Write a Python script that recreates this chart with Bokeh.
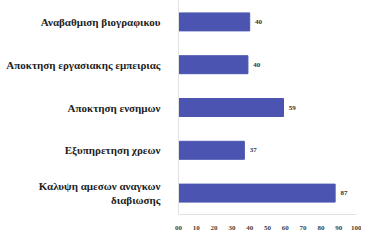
from bokeh.plotting import figure
from bokeh.models import FactorRange, ColumnDataSource, FixedTicker
from bokeh.embed import file_html
from bokeh.resources import INLINE
from bokeh.core.properties import value

categories = [
    "Αναβαθμιση βιογραφικου",
    "Αποκτηση εργασιακης εμπειριας",
    "Αποκτηση ενσημων",
    "Εξυπηρετηση χρεων",
    "Καλυψη αμεσων αναγκων\nδιαβιωσης",
]
values = [40, 39, 59, 37, 88]
value_labels = ["40", "40", "59", "37", "87"]
x_ticks = [0, 10, 20, 30, 40, 50, 60, 70, 80, 90, 100]
x_tick_labels = ["00", "10", "20", "30", "40", "50", "60", "70", "80", "90", "100"]

SERIF = "'Liberation Serif', 'DejaVu Serif', serif"

src = ColumnDataSource(dict(cat=categories, val=values,
                            lab=value_labels,
                            lx=[v + 3 for v in values]))

p = figure(y_range=FactorRange(*reversed(categories)), x_range=(0, 100),
           width=361, height=232, output_backend="svg", toolbar_location=None,
           min_border_left=178, min_border_right=5, min_border_top=0,
           min_border_bottom=14)

p.hbar(y="cat", right="val", left=0, height=0.42, source=src,
       fill_color="#4b55b1", line_color="#4b55b1")
p.text(x="lx", y="cat", text="lab", source=src, text_font=value(SERIF),
       text_font_size="7px", text_baseline="middle", text_color="#333333",
       text_font_style="bold")

p.outline_line_color = None
p.xgrid.grid_line_color = None
p.ygrid.grid_line_color = None

p.xaxis.ticker = FixedTicker(ticks=x_ticks)
p.xaxis.major_label_overrides = {t: l for t, l in zip(x_ticks, x_tick_labels)}
p.xaxis.major_label_text_font = SERIF
p.xaxis.major_label_text_font_size = "7px"
p.xaxis.major_label_text_font_style = "bold"
p.xaxis.major_label_text_color = "#444444"
p.xaxis.axis_line_color = "#e2e2e2"
p.xaxis.major_tick_line_color = None
p.xaxis.minor_tick_line_color = None
p.xaxis.major_label_standoff = 5

p.yaxis.major_label_text_font = SERIF
p.yaxis.major_label_text_font_size = "11px"
p.yaxis.major_label_text_font_style = "bold"
p.yaxis.major_label_text_color = "#222222"
p.yaxis.axis_line_color = "#e2e2e2"
p.yaxis.major_tick_line_color = None
p.yaxis.minor_tick_line_color = None
p.yaxis.major_label_standoff = 12

open("out.html", "w").write(file_html(p, INLINE))
